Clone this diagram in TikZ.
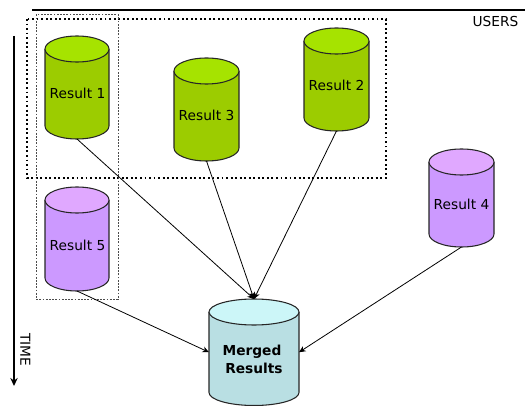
\documentclass[tikz,border=0pt]{standalone}
\usepackage{fontspec}
\setmainfont{DejaVu Sans}
\usetikzlibrary{arrows.meta}
\definecolor{grnbody}{HTML}{9CCC00}
\definecolor{grntop}{HTML}{A6E300}
\definecolor{purbody}{HTML}{CC99FF}
\definecolor{purtop}{HTML}{E0A8FF}
\definecolor{merbody}{HTML}{B9DFE3}
\definecolor{mertop}{HTML}{CCF6F8}
% name, left, right, top, bottom, body colour, top colour
\newcommand{\dbcyl}[7]{%
  \pgfmathsetmacro{\cxx}{(#2+#3)/2}\pgfmathsetmacro{\rxx}{(#3-#2)/2}%
  \fill[#6] (#2,#4+13) -- (#2,#5-13) arc[start angle=180,end angle=360,x radius=\rxx,y radius=-13] -- (#3,#4+13) -- cycle;
  \draw[cylline] (#2,#4+13) -- (#2,#5-13) arc[start angle=180,end angle=360,x radius=\rxx,y radius=-13] -- (#3,#4+13);
  \draw[cylline,fill=#7] (\cxx,#4+13) ellipse[x radius=\rxx,y radius=13];
  \node[cylbox,minimum width={(#3-#2)*0.75pt},minimum height={(#5-#4)*0.75pt}] (#1) at (\cxx,{(#4+#5)/2}) {};
}
\tikzset{
  x=0.75pt,y=-0.75pt,
  cylline/.style={draw=black!85,line width=0.8pt},
  cylbox/.style={rectangle,inner sep=0pt,outer sep=0pt},
  lbl/.style={inner sep=0pt,font=\fontsize{10.3pt}{12pt}\selectfont,text=black},
  conn/.style={draw=black,line width=0.6pt,-{Stealth[length=5pt,width=4.5pt]}},
  usersbox/.style={draw=black,line width=1.4pt,dotted},
  timebox/.style={draw=black!70,line width=0.7pt,dash pattern=on 1.3pt off 1.1pt},
}
\begin{document}
\begin{tikzpicture}
\useasboundingbox (0,0) rectangle (525,406);
\coordinate (uL) at (32,10); \coordinate (uR) at (525,10);
\coordinate (tT) at (14,36); \coordinate (tB) at (14,386);
\draw[line width=1.2pt] (uL) -- (uR);
\draw[line width=1.6pt,-{Stealth[length=6pt,width=5.5pt]}] (tT) -- (tB);
\node[lbl] (users) at (495.5,21.5) {USERS};
\node[lbl,rotate=-90] (time) at (25.5,350) {TIME};
\dbcyl{r1}{45}{109}{36}{139}{grnbody}{grntop}
\dbcyl{r3}{174}{239}{58}{161}{grnbody}{grntop}
\dbcyl{r2}{304}{369}{28}{131}{grnbody}{grntop}
\dbcyl{r4}{429}{494}{149}{247}{purbody}{purtop}
\dbcyl{r5}{45}{109}{187}{291}{purbody}{purtop}
\dbcyl{m}{209}{299}{299}{405.5}{merbody}{mertop}
\draw[usersbox] (27,19) rectangle (386,178);
\draw[timebox] (36,14.5) rectangle (118,299);
\node[lbl] (t1) at (77.5,93.5) {Result 1};
\node[lbl] (t3) at (206.5,115.5) {Result 3};
\node[lbl] (t2) at (336.5,85.5) {Result 2};
\node[lbl] (t4) at (461.5,204) {Result 4};
\node[lbl] (t5) at (77.5,245) {Result 5};
\node[lbl,font=\fontsize{10.3pt}{12pt}\selectfont\bfseries] (t6a) at (252,352) {Merged};
\node[lbl,font=\fontsize{10.3pt}{12pt}\selectfont\bfseries] (t6b) at (254,368) {Results};
\draw[conn] (r1.south) -- (m.north);
\draw[conn] (r3.south) -- (m.north);
\draw[conn] (r2.south) -- (m.north);
\draw[conn] (r4.south) -- (m.east);
\draw[conn] (r5.south) -- (m.west);
\end{tikzpicture}
\end{document}
